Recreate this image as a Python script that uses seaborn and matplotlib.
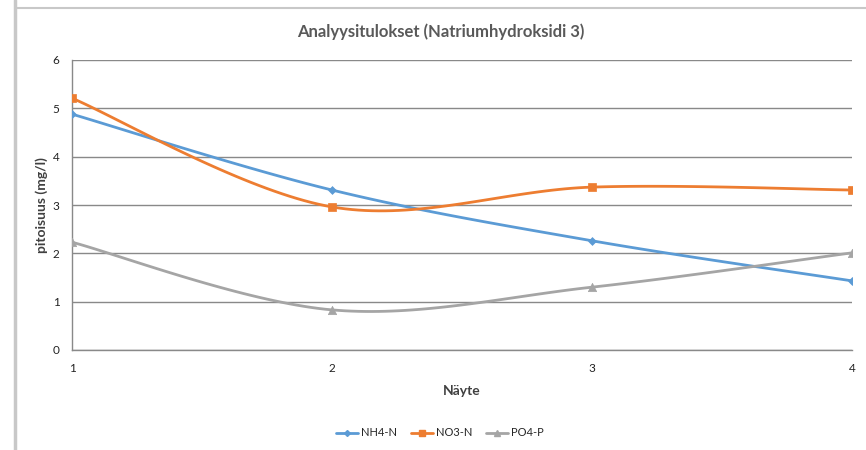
import numpy as np
import pandas as pd
import matplotlib
matplotlib.use("Agg")
import matplotlib.pyplot as plt
from matplotlib.lines import Line2D
import seaborn as sns

# ---- data ----
samples = [1, 2, 3, 4]
nh4_n = [4.88, 3.31, 2.26, 1.43]
no3_n = [5.21, 2.96, 3.37, 3.31]
po4_p = [2.23, 0.83, 1.30, 2.01]
series_names = ["NH4-N", "NO3-N", "PO4-P"]
y_ticks = [0, 1, 2, 3, 4, 5, 6]

colors = {"NH4-N": "#5B9BD5", "NO3-N": "#ED7D31", "PO4-P": "#A5A5A5"}
markers = {"NH4-N": "D", "NO3-N": "s", "PO4-P": "^"}
msizes = {"NH4-N": 4, "NO3-N": 6, "PO4-P": 6}


def smooth(xs, ys, n=40):
    """Excel-like smoothed line: cubic Bezier with Catmull-Rom control points."""
    xs = np.asarray(xs, float)
    ys = np.asarray(ys, float)
    P = np.column_stack([xs, ys])
    Pe = np.vstack([P[0], P, P[-1]])
    out = []
    t = np.linspace(0, 1, n)[:, None]
    for i in range(len(P) - 1):
        p0, p1, p2, p3 = Pe[i], Pe[i + 1], Pe[i + 2], Pe[i + 3]
        c1 = p1 + (p2 - p0) / 6.0
        c2 = p2 - (p3 - p1) / 6.0
        seg = ((1 - t) ** 3) * p1 + 3 * ((1 - t) ** 2) * t * c1 + 3 * (1 - t) * t ** 2 * c2 + t ** 3 * p2
        out.append(seg if i == 0 else seg[1:])
    out = np.vstack(out)
    return out[:, 0], out[:, 1]


sns.set_theme(style="white")
plt.rcParams["font.family"] = ["Lato", "DejaVu Sans"]

fig = plt.figure(figsize=(8.66, 4.5), dpi=100)
ax = fig.add_axes([72 / 866, 1 - 350 / 450, 780 / 866, 290 / 450])

raw = {"NH4-N": nh4_n, "NO3-N": no3_n, "PO4-P": po4_p}
curves = []
points = []
for name in series_names:
    sx, sy = smooth(samples, raw[name])
    curves.append(pd.DataFrame({"x": sx, "y": sy, "series": name, "order": np.arange(len(sx))}))
    points.append(pd.DataFrame({"x": samples, "y": raw[name], "series": name}))
curves = pd.concat(curves)
points = pd.concat(points)

for name in series_names:
    sns.lineplot(data=curves[curves.series == name], x="x", y="y", sort=False,
                 color=colors[name], linewidth=2.0, ax=ax, legend=False, zorder=3)
    sns.scatterplot(data=points[points.series == name], x="x", y="y",
                    color=colors[name], marker=markers[name], s=msizes[name] ** 2,
                    edgecolor=colors[name], linewidth=0.5, ax=ax, legend=False, zorder=4)

ax.set_xlim(1, 4)
ax.set_ylim(0, 6)
ax.set_xticks(samples)
ax.set_xticklabels([str(s) for s in samples])
ax.set_yticks(y_ticks)
ax.yaxis.grid(True, color="#898989", linewidth=1.0)
ax.xaxis.grid(False)
ax.set_axisbelow(True)
for side in ["top", "right"]:
    ax.spines[side].set_visible(False)
for side in ["left", "bottom"]:
    ax.spines[side].set_color("#898989")
    ax.spines[side].set_linewidth(1.0)
ax.tick_params(axis="both", which="both", length=5, width=1, color="#898989",
               labelsize=8.5, labelcolor="#222222", direction="out")
ax.tick_params(axis="x", pad=4)
ax.tick_params(axis="y", pad=4)

ax.set_xlabel("Näyte", fontsize=10, fontweight="bold", color="#404040", labelpad=8)
ax.set_ylabel("pitoisuus (mg/l)", fontsize=10, fontweight="bold", color="#404040", labelpad=3)
fig.text(441 / 866, 1 - 32 / 450, "Analyysitulokset (Natriumhydroksidi 3)", ha="center", va="center",
         fontsize=12, fontweight="bold", color="#595959")

handles = [Line2D([0], [0], color=colors[n], marker=markers[n], markersize=msizes[n] - 1, linewidth=2)
           for n in series_names]
fig.legend(handles, series_names, loc="center", bbox_to_anchor=(440 / 866, 1 - 433 / 450), ncol=3,
           frameon=False, fontsize=8, handlelength=2.0, columnspacing=1.2, handletextpad=0.3)

# remnants of the surrounding Excel frame
fig.add_artist(Line2D([14.5 / 866, 14.5 / 866], [0, 1], color="#C8C8C8", linewidth=2.5))
fig.add_artist(Line2D([16 / 866, 1], [1 - 7.5 / 450, 1 - 7.5 / 450], color="#C8C8C8", linewidth=1.5))

fig.savefig("out.png", dpi=100)
